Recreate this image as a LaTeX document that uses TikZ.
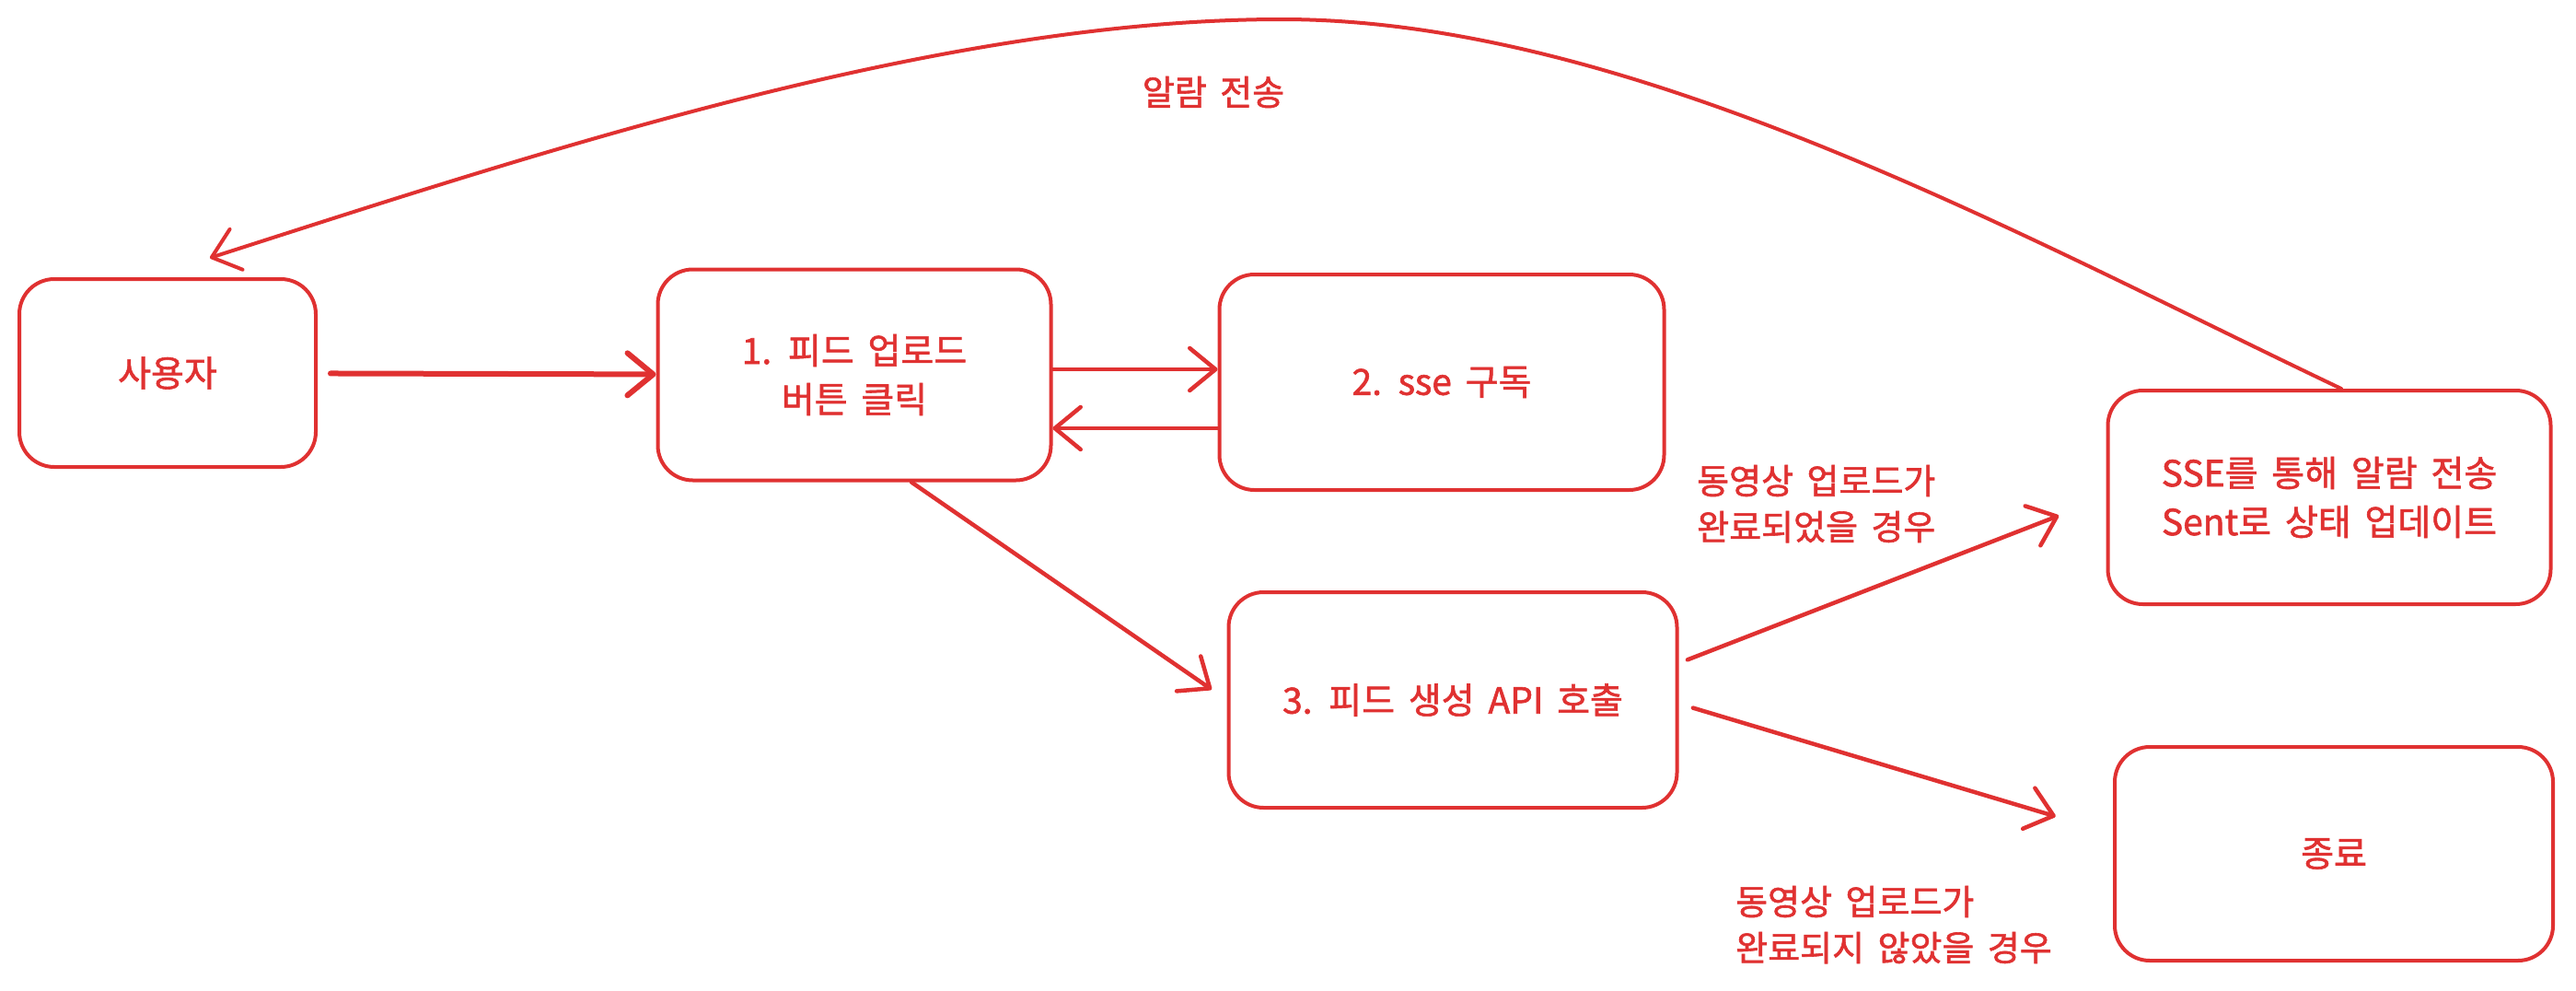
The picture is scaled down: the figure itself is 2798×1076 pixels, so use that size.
\documentclass[tikz,border=0pt]{standalone}
\usepackage{fontspec}
\setmainfont{Noto Sans CJK KR}[WordSpace=1.7,FakeBold=1.5]
\usetikzlibrary{arrows.meta}
\definecolor{exred}{HTML}{E03131}

\begin{document}
\begin{tikzpicture}[x=1pt,y=-1pt]

    \tikzset{box/.style={rectangle, draw=exred, line width=4pt, rounded corners=38pt, inner sep=0pt, text=exred, align=center, font=\fontsize{39pt}{53pt}\selectfont}}
    \tikzset{flow/.style={draw=exred, line width=4.5pt, line cap=round, -{Straight Barb[length=28pt,width=46pt,round]}}}
    \tikzset{note/.style={text=exred, align=left, inner sep=0pt, font=\fontsize{38pt}{50pt}\selectfont}}

    \fill[white] (0,0) rectangle (2798,1076);
    \useasboundingbox (0,0) rectangle (2798,1076);

    % BOXES
    \node(user) at (182,405) [box, minimum width=322pt, minimum height=204pt] {사용자};
    \node(feed) at (928,407) [box, minimum width=427pt, minimum height=229pt] {1. 피드 업로드\\버튼 클릭};
    \node(subs) at (1566,415) [box, minimum width=483pt, minimum height=234pt] {2. sse 구독};
    \node(api) at (1578,760) [box, minimum width=487pt, minimum height=234pt] {3. 피드 생성 API 호출};
    \node(push) at (2530,540) [box, minimum width=481pt, minimum height=232pt] {SSE를 통해 알람 전송\\Sent로 상태 업데이트};
    \node(stop) at (2535,927) [box, minimum width=476pt, minimum height=232pt] {종료};

    % LABELS
    \node(alarm) at (1318,100) [note] {알람 전송};
    \node(done) at (1843,547) [note, anchor=west] {동영상 업로드가\\완료되었을 경우};
    \node(undone) at (1885,1004) [note, anchor=west] {동영상 업로드가\\완료되지 않았을 경우};

    % ARROWS
    \draw[flow, line width=6pt, shorten <=14pt] (user) -- (feed);
    \draw[flow] ([yshift=6pt]feed.east) -- ([yshift=6pt]feed.east -| subs.west);
    \draw[flow] ([yshift=-50pt]subs.west) -- ([yshift=-50pt]subs.west -| feed.east);
    \draw[flow, shorten >=20pt] ([xshift=62pt]feed.south) -- (api.west);
    \draw[flow, shorten <=10pt, shorten >=55pt] ([yshift=40pt]api.east) -- (push.west);
    \draw[flow, shorten <=16pt, shorten >=65pt] ([yshift=-4pt]api.east) -- ([yshift=22pt]stop.west);

    % NOTIFICATION CURVE
    \coordinate (crest) at (1392,21);
    \draw[flow, line width=4pt] ([xshift=13pt]push.north) .. controls (2198,258) and (1773,21) .. (crest)
        .. controls (1018,21) and (584,166) .. ([xshift=46pt,yshift=21pt]user.north);

\end{tikzpicture}
\end{document}
